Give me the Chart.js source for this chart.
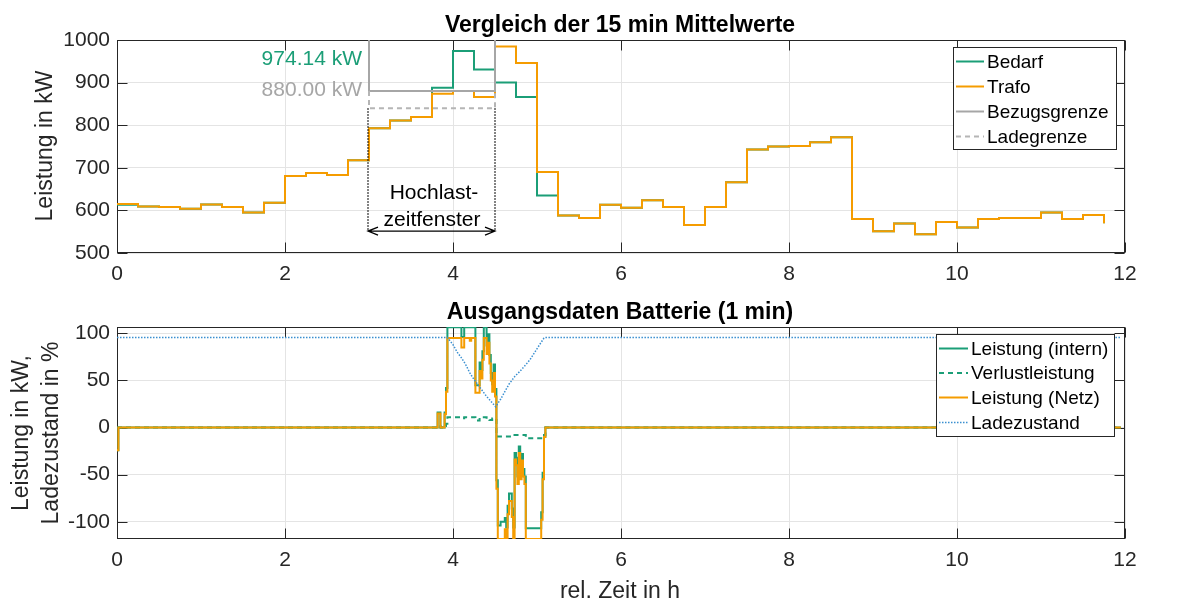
<!DOCTYPE html>
<html><head><meta charset="utf-8">
<script src="https://cdn.jsdelivr.net/npm/chart.js@4"></script>
<style>
html,body{margin:0;padding:0;background:#fff;width:1179px;height:607px;overflow:hidden}
canvas{display:block;position:absolute;left:0}
#c1{top:0}
#c2{top:300px}
</style></head><body>
<canvas id="c1" width="1179" height="300"></canvas>
<canvas id="c2" width="1179" height="307"></canvas>
<script>
// ---------- DATA: top plot (15 min mean values, kW) ----------
const bedarfKW = [613,609,608,604,614,608,595,618,681,688,683,718,793,811,819,888,974.14,931,900,866,635,588,582,613,606,624,608,566,608,666,743,750,751,760,772,580,551,569,544,573,560,580,582,582,595,580,589,570];
const trafoKW  = [615,609,608,604,614,608,595,618,681,688,683,718,793,811,819,874,880,866,985,946,690,588,582,613,606,624,608,566,608,666,743,750,751,760,772,580,551,569,544,573,560,580,582,582,595,580,589,570];
const quarterHourStart = trafoKW.map((_, i) => i * 0.25);   // hours
const bezugsgrenzeX = [3, 3, 4.5, 4.5];
const bezugsgrenzeY = [1000, 880, 880, 1000];
const ladegrenzeX = [3, 3, 4.5, 4.5];
const ladegrenzeY = [880, 840, 840, 880];
const hochlastWindow = [3, 4.5];
const hochlastTop = 840, hochlastArrow = 551.5;
const peakLabels = ['974.14 kW', '880.00 kW'];
const xTicks = [0, 2, 4, 6, 8, 10, 12];
const yTicksTop = [500, 600, 700, 800, 900, 1000];
const yTicksBottom = [-100, -50, 0, 50, 100];

// ---------- DATA: bottom plot (1 min battery data), [minute, value] breakpoints ----------
const leistungIntern = [[0,-24],[1,0],[229,16],[231,0],[234,16],[235,42],[236,106.5],[246,96],[248,106.5],[256,45],[259,69],[260,61],[261,81],[262,106.5],[264,87],[265,99],[266,77],[267,58],[268,46],[269,67],[270,41],[271,-56],[272,-104],[274,-100],[277,-96],[278,-106],[279,-83],[280,-70],[282,-86],[283,-106],[284,-27],[285,-32],[286,-52],[287,-20],[288,-47],[289,-28],[290,-44],[291,-52],[292,-107],[303,-90],[304,-48],[305,-8],[306,0],[717,0]];
const verlustleistung = [[0,0],[229,1.5],[231,0],[234,1.5],[235,4],[236,10.8],[246,9.8],[248,10.8],[256,7.5],[259,9],[262,10.8],[264,9],[266,8],[268,9.5],[270,8],[271,-9.5],[283,-8],[292,-11.5],[306,0],[717,0]];
const leistungNetz = [[0,-24],[1,0],[229,15],[231,0],[234,14],[235,38],[236,95],[246,85],[248,95],[252,92],[253,95],[256,37],[259,60],[260,52],[261,72],[262,95],[264,78],[265,90],[266,68],[267,50],[268,38],[269,58],[270,33],[271,-65],[272,-118.3],[277,-108],[278,-118.3],[279,-92],[280,-78],[282,-95],[283,-118.3],[284,-34],[285,-40],[286,-60],[287,-27],[288,-55],[289,-35],[290,-52],[291,-60],[292,-118.3],[303,-98],[304,-55],[305,-10],[306,0],[717,0]];
const ladezustand = [[0,95.5],[236,95.5],[240,88],[243,80],[246,74],[249,67],[252,58],[255,51],[258,45],[261,39],[264,33],[267,28],[270.5,22],[274,30],[277,38],[280,46],[284,54],[288,60],[291,65],[295,72],[298,79],[301,86],[305,95],[306,95.5],[717,95.5]];

// ---------- STYLE ----------
const FONT = '"Liberation Sans", Arial, sans-serif';
const GREEN = '#1b9e77', ORANGE = '#f59c00', GRAY = '#a6a6a6', GRAY2 = '#b5b5b5', BLUE = '#3a8fd0';
const AXC = '#262626';

Chart.defaults.font.family = FONT;

function tickList(arr) { return s => { s.ticks = arr.map(v => ({ value: v })); }; }

function boxPlugin() {
  return {
    id: 'box',
    beforeDatasetsDraw(chart) {
      const { ctx, chartArea: a, scales } = chart;
      ctx.save();
      ctx.strokeStyle = AXC; ctx.lineWidth = 1;
      const L = Math.round(a.left) + 0.5, R = Math.round(a.right) - 0.5;
      const T = Math.round(a.top) + 0.5, B = Math.round(a.bottom) - 0.5;
      ctx.strokeRect(L, T, R - L, B - T);
      ctx.beginPath();
      scales.x.ticks.forEach(t => {
        const px = Math.round(scales.x.getPixelForValue(t.value)) + 0.5;
        ctx.moveTo(px, B); ctx.lineTo(px, B - 10);
        ctx.moveTo(px, T); ctx.lineTo(px, T + 10);
      });
      scales.y.ticks.forEach(t => {
        const py = Math.round(scales.y.getPixelForValue(t.value)) + 0.5;
        ctx.moveTo(L, py); ctx.lineTo(L + 10, py);
        ctx.moveTo(R, py); ctx.lineTo(R - 10, py);
      });
      ctx.stroke();
      ctx.restore();
    }
  };
}

function drawLegend(ctx, box, items) {
  ctx.save();
  ctx.fillStyle = '#fff';
  ctx.fillRect(box.x, box.y, box.w, box.h);
  ctx.strokeStyle = AXC; ctx.lineWidth = 1;
  ctx.strokeRect(box.x + 0.5, box.y + 0.5, box.w, box.h);
  ctx.font = '19px ' + FONT;
  ctx.textBaseline = 'middle'; ctx.textAlign = 'left';
  items.forEach((it, i) => {
    const y = box.rows[i];
    ctx.beginPath();
    ctx.strokeStyle = it.color; ctx.lineWidth = it.width;
    ctx.setLineDash(it.dash || []);
    ctx.moveTo(box.l1, y); ctx.lineTo(box.l2, y);
    ctx.stroke();
    ctx.setLineDash([]);
    ctx.fillStyle = '#000';
    ctx.fillText(it.label, box.tx, y + 1);
  });
  ctx.restore();
}

function rotText(ctx, text, x, y, font) {
  ctx.save(); ctx.translate(x, y); ctx.rotate(-Math.PI / 2);
  ctx.font = font; ctx.fillStyle = AXC; ctx.textAlign = 'center'; ctx.textBaseline = 'alphabetic';
  ctx.fillText(text, 0, 0); ctx.restore();
}

function baseScales(yMin, yMax, yTicks, xHeight) {
  const plain = v => String(v);
  return {
    x: {
      type: 'linear', min: 0, max: 12,
      afterBuildTicks: tickList(xTicks),
      afterFit: s => { s.height = xHeight; },
      ticks: { font: { size: 21, family: FONT }, color: AXC, padding: 9, maxRotation: 0, autoSkip: false, callback: plain },
      grid: { color: '#e4e4e4', drawTicks: false, lineWidth: 1 },
      border: { display: false }
    },
    y: {
      type: 'linear', min: yMin, max: yMax,
      afterBuildTicks: tickList(yTicks),
      afterFit: s => { s.width = 117; },
      ticks: { font: { size: 21, family: FONT }, color: AXC, padding: 7, autoSkip: false, callback: plain },
      grid: { color: '#e4e4e4', drawTicks: false, lineWidth: 1 },
      border: { display: false }
    }
  };
}

// ---------- TOP CHART ----------
const topAnno = {
  id: 'topAnno',
  afterDatasetsDraw(chart) {
    const { ctx, scales: { x, y } } = chart;
    ctx.save();
    const x1 = x.getPixelForValue(hochlastWindow[0]) - 1, x2 = x.getPixelForValue(hochlastWindow[1]);
    const yt = y.getPixelForValue(hochlastTop), ya = y.getPixelForValue(hochlastArrow);
    ctx.strokeStyle = '#000'; ctx.lineWidth = 1.3; ctx.setLineDash([1.5, 1.5]);
    ctx.beginPath();
    ctx.moveTo(x1, yt); ctx.lineTo(x1, ya);
    ctx.moveTo(x2, yt); ctx.lineTo(x2, ya);
    ctx.stroke();
    ctx.setLineDash([]);
    ctx.lineWidth = 1.3;
    ctx.beginPath();
    ctx.moveTo(x1, ya); ctx.lineTo(x2, ya);
    ctx.moveTo(x1 + 10, ya - 4); ctx.lineTo(x1, ya); ctx.lineTo(x1 + 10, ya + 4);
    ctx.moveTo(x2 - 10, ya - 4); ctx.lineTo(x2, ya); ctx.lineTo(x2 - 10, ya + 4);
    ctx.stroke();
    const xc = x.getPixelForValue((hochlastWindow[0] + hochlastWindow[1]) / 2);
    ctx.font = '21px ' + FONT; ctx.fillStyle = '#000'; ctx.textAlign = 'center'; ctx.textBaseline = 'alphabetic';
    ctx.fillText('Hochlast-', xc + 2, 199);
    ctx.fillText('zeitfenster', xc, 226);
    ctx.textAlign = 'right';
    ctx.fillStyle = GREEN; ctx.fillText(peakLabels[0], 362, 65);
    ctx.fillStyle = GRAY; ctx.fillText(peakLabels[1], 362, 96);
    ctx.restore();
  },
  afterDraw(chart) {
    const { ctx } = chart;
    ctx.save();
    ctx.font = 'bold 23px ' + FONT; ctx.fillStyle = '#000'; ctx.textAlign = 'center'; ctx.textBaseline = 'alphabetic';
    ctx.fillText('Vergleich der 15 min Mittelwerte', 620, 31.5);
    ctx.restore();
    rotText(ctx, 'Leistung in kW', 52, 146, '23px ' + FONT);
    drawLegend(ctx, { x: 953, y: 47, w: 163, h: 102, l1: 956, l2: 984, tx: 987, rows: [61.5, 86.5, 111.5, 136.5] }, [
      { label: 'Bedarf', color: GREEN, width: 2 },
      { label: 'Trafo', color: ORANGE, width: 2 },
      { label: 'Bezugsgrenze', color: GRAY, width: 2 },
      { label: 'Ladegrenze', color: GRAY2, width: 2, dash: [5, 4] }
    ]);
  }
};

const xy = (xs, ys) => xs.map((v, i) => ({ x: v, y: ys[i] }));

new Chart(document.getElementById('c1'), {
  type: 'line',
  data: {
    datasets: [
      { label: 'Bedarf', order: 4, data: xy(quarterHourStart, bedarfKW), stepped: 'before', borderColor: GREEN, borderWidth: 2, pointRadius: 0, fill: false },
      { label: 'Trafo', order: 3, data: xy(quarterHourStart, trafoKW), stepped: 'before', borderColor: ORANGE, borderWidth: 2, pointRadius: 0, fill: false },
      { label: 'Bezugsgrenze', order: 2, data: xy(bezugsgrenzeX, bezugsgrenzeY), borderColor: GRAY, borderWidth: 2, pointRadius: 0, fill: false },
      { label: 'Ladegrenze', order: 1, data: xy(ladegrenzeX, ladegrenzeY), borderColor: GRAY2, borderWidth: 2, borderDash: [5, 4], pointRadius: 0, fill: false }
    ]
  },
  options: {
    responsive: false, animation: false, events: [],
    layout: { padding: { top: 40, right: 54, left: 0, bottom: 0 } },
    scales: baseScales(500, 1000, yTicksTop, 47),
    plugins: { legend: { display: false }, tooltip: { enabled: false }, title: { display: false } }
  },
  plugins: [boxPlugin(), topAnno]
});

// ---------- BOTTOM CHART ----------
const toHours = arr => arr.map(p => ({ x: p[0] / 60, y: p[1] }));
const bottomAnno = {
  id: 'bottomAnno',
  afterDraw(chart) {
    const { ctx } = chart;
    ctx.save();
    ctx.font = 'bold 23px ' + FONT; ctx.fillStyle = '#000'; ctx.textAlign = 'center'; ctx.textBaseline = 'alphabetic';
    ctx.fillText('Ausgangsdaten Batterie (1 min)', 620, 18.5);
    ctx.font = '23px ' + FONT; ctx.fillStyle = AXC;
    ctx.fillText('rel. Zeit in h', 620, 298);
    ctx.restore();
    rotText(ctx, 'Leistung in kW,', 28, 133, '23px ' + FONT);
    rotText(ctx, 'Ladezustand in %', 58, 133, '23px ' + FONT);
    drawLegend(ctx, { x: 936, y: 34, w: 178, h: 102, l1: 939, l2: 968, tx: 971, rows: [48.5, 73, 97.5, 122.5] }, [
      { label: 'Leistung (intern)', color: GREEN, width: 2 },
      { label: 'Verlustleistung', color: GREEN, width: 2, dash: [5, 4] },
      { label: 'Leistung (Netz)', color: ORANGE, width: 2 },
      { label: 'Ladezustand', color: BLUE, width: 1.5, dash: [1.5, 1.5] }
    ]);
  }
};

new Chart(document.getElementById('c2'), {
  type: 'line',
  data: {
    datasets: [
      { label: 'Leistung (intern)', order: 4, data: toHours(leistungIntern), stepped: 'before', borderColor: GREEN, borderWidth: 2, pointRadius: 0, fill: false },
      { label: 'Verlustleistung', order: 3, data: toHours(verlustleistung), stepped: 'before', borderColor: GREEN, borderWidth: 2, borderDash: [5, 4], pointRadius: 0, fill: false },
      { label: 'Leistung (Netz)', order: 2, data: toHours(leistungNetz), stepped: 'before', borderColor: ORANGE, borderWidth: 2, pointRadius: 0, fill: false },
      { label: 'Ladezustand', order: 1, data: toHours(ladezustand), borderColor: BLUE, borderWidth: 1.5, borderDash: [1.5, 1.5], pointRadius: 0, fill: false }
    ]
  },
  options: {
    responsive: false, animation: false, events: [],
    layout: { padding: { top: 27, right: 54, left: 0, bottom: 0 } },
    scales: baseScales(-118.3, 106.7, yTicksBottom, 68),
    plugins: { legend: { display: false }, tooltip: { enabled: false }, title: { display: false } }
  },
  plugins: [boxPlugin(), bottomAnno]
});
</script></body></html>
